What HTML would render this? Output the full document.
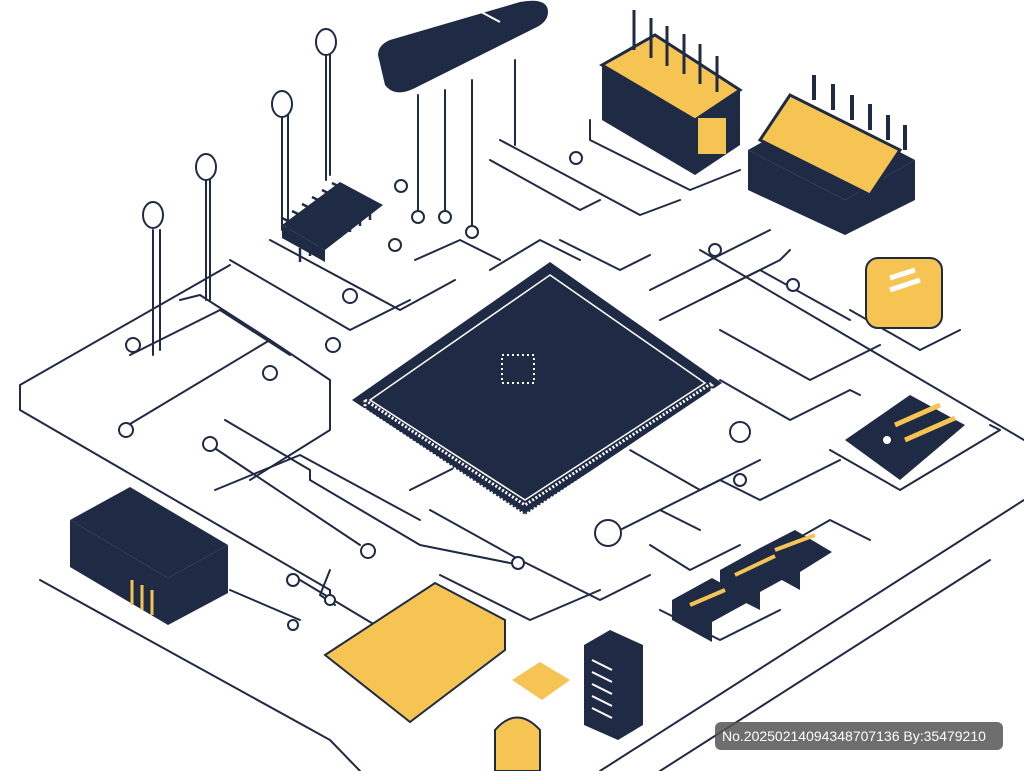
<!DOCTYPE html>
<html><head><meta charset="utf-8"><style>
html,body{margin:0;padding:0;background:#fff;}
svg{display:block;}
</style></head><body>
<svg width="1024" height="771" viewBox="0 0 1024 771" xmlns="http://www.w3.org/2000/svg">
<g fill="none" stroke="#1f2a44" stroke-width="2" stroke-linecap="round" stroke-linejoin="round">
<path d="M20 385 L230 265 M20 385 L20 410 L330 590 M330 590 L330 600 M40 580 L330 740 L360 771"/>
<path d="M1024 440 L700 250 M1024 500 L600 771 M990 560 L660 771"/>
<path d="M120 430 L270 340 L330 380 L330 430 L250 480"/>
<path d="M130 355 L220 310 L290 355"/>
<path d="M180 300 L200 295 L270 340"/>
<path d="M230 260 L350 330 L410 300"/>
<path d="M270 240 L400 310 L455 280"/>
<path d="M210 445 L360 545 M215 490 L300 455 L420 520"/>
<path d="M225 420 L310 470 L310 480 L420 545 L520 565"/>
<path d="M230 590 L300 620 M300 580 L400 640"/>
<path d="M335 605 L320 595 L330 570"/>
<path d="M410 490 L470 460 M430 510 L520 560 L600 600 L650 575"/>
<path d="M440 575 L530 620 L600 590"/>
<path d="M600 540 L660 510 L700 530"/>
<path d="M650 545 L690 570 L740 545"/>
<path d="M660 510 L720 480 L760 500 L840 460"/>
<path d="M630 450 L700 490 L760 460"/>
<path d="M720 380 L790 420 L850 390 L860 395"/>
<path d="M720 330 L810 380 L880 345"/>
<path d="M660 320 L760 270 L850 320"/>
<path d="M700 300 L780 260 L790 250"/>
<path d="M650 290 L730 250 L770 230"/>
<path d="M490 160 L580 210 L600 200 M500 140 L640 215 L680 200"/>
<path d="M590 120 L590 140 L690 190 L740 170"/>
<path d="M415 260 L460 240 L500 260 M490 270 L540 240 L580 260 M560 240 L620 270 L650 255"/>
<path d="M660 610 L720 640 L780 610 M760 560 L830 520 L870 540"/>
<path d="M830 450 L900 490 L1000 430 L990 425"/>
<path d="M850 310 L920 350 L960 330"/>
<path d="M153 230 L153 355 M160 230 L160 350 M206 180 L206 300 M210 180 L210 300 M282 115 L282 230 M288 115 L288 230 M326 55 L326 180 M330 55 L330 175"/>
<path d="M418 95 L418 215 M445 90 L445 215 M472 80 L472 230 M515 60 L515 145"/>
</g>
<g fill="#fff" stroke="#1f2a44" stroke-width="2">
<ellipse cx="153" cy="215" rx="10" ry="13"/><ellipse cx="206" cy="167" rx="10" ry="13"/>
<ellipse cx="282" cy="104" rx="10" ry="13"/><ellipse cx="326" cy="42" rx="10" ry="13"/>
<circle cx="133" cy="345" r="7"/><circle cx="126" cy="430" r="7"/><circle cx="210" cy="444" r="7"/>
<circle cx="270" cy="373" r="7"/><circle cx="333" cy="345" r="7"/><circle cx="350" cy="296" r="7"/>
<circle cx="395" cy="245" r="6"/><circle cx="401" cy="186" r="6"/><circle cx="418" cy="217" r="6"/>
<circle cx="445" cy="217" r="6"/><circle cx="472" cy="232" r="6"/><circle cx="576" cy="158" r="6"/>
<circle cx="715" cy="250" r="6"/><circle cx="793" cy="285" r="6"/><circle cx="740" cy="432" r="10"/>
<circle cx="740" cy="480" r="6"/><circle cx="608" cy="533" r="13"/><circle cx="518" cy="563" r="6"/>
<circle cx="368" cy="551" r="7"/><circle cx="293" cy="580" r="6"/><circle cx="330" cy="600" r="5"/>
<circle cx="293" cy="625" r="5"/>
</g>
<!-- top bar -->
<path d="M378 55 Q378 45 390 40 L520 2 Q548 -3 548 12 Q548 22 535 28 L415 88 Q395 98 385 85 Z" fill="#1f2a44"/>
<path d="M468 5 L500 22" stroke="#fff" stroke-width="2"/>
<!-- top-right yellow component -->
<polygon points="602,65 655,35 740,90 695,120" fill="#f5c453" stroke="#1f2a44" stroke-width="3"/>
<polygon points="602,65 695,120 695,175 602,120" fill="#1f2a44"/>
<polygon points="695,120 740,90 740,145 695,175" fill="#1f2a44"/>
<rect x="698" y="118" width="28" height="36" fill="#f5c453"/>
<g stroke="#1f2a44" stroke-width="3"><path d="M634 10V50M651 18V58M667 26V66M684 34V74M700 44V84M717 56V92"/></g>
<!-- right yellow component -->
<polygon points="748,150 820,110 915,160 845,200" fill="#1f2a44"/>
<polygon points="748,150 845,200 845,235 748,190" fill="#1f2a44"/>
<polygon points="845,200 915,160 915,200 845,235" fill="#1f2a44"/>
<path d="M760 140 L790 95 L900 150 L870 195 Z" fill="#f5c453" stroke="#1f2a44" stroke-width="3"/>
<g stroke="#1f2a44" stroke-width="4"><path d="M814 75V100M833 84V110M852 95V120M870 104V130M888 115V140M905 125V150"/></g>
<rect x="866" y="258" width="76" height="70" rx="12" fill="#f5c453" stroke="#1f2a44" stroke-width="2"/>
<path d="M890 278 L915 270 M890 290 L920 280" stroke="#fff" stroke-width="5"/>
<polygon points="845,440 910,395 965,425 900,480" fill="#1f2a44"/>
<path d="M895 425 L940 405 M905 440 L955 418" stroke="#f5c453" stroke-width="5"/>
<circle cx="887" cy="440" r="4" fill="#fff"/>
<!-- small chip with pins -->
<g stroke="#1f2a44" stroke-width="2.5">
<path d="M290 222 L282 218 M300 215 L292 211 M310 208 L302 204 M320 201 L312 197 M330 194 L322 190 M340 187 L332 183"/>
<path d="M300 248 L300 262 M310 242 L310 256 M320 236 L320 250 M330 230 L330 244 M340 224 L340 238 M350 218 L350 232 M360 212 L360 226 M370 206 L370 220"/>
</g>
<polygon points="282,225 340,182 383,205 325,250" fill="#1f2a44"/>
<polygon points="282,225 325,250 325,262 282,238" fill="#1f2a44"/>
<!-- central chip -->
<polygon points="550,262 722,383 525,515 352,400" fill="#1f2a44"/>
<polygon points="550,275 705,383 525,500 370,400" fill="none" stroke="#fff" stroke-width="1.5"/>
<polygon points="365,400 525,505 712,383 712,395 525,515 365,410" fill="none" stroke="#fff" stroke-width="3" stroke-dasharray="2 2"/>
<rect x="502" y="355" width="32" height="28" fill="none" stroke="#fff" stroke-width="2" stroke-dasharray="2 3"/>
<!-- left dark box -->
<polygon points="70,520 130,487 228,545 168,578" fill="#1f2a44"/>
<polygon points="70,520 168,578 168,625 70,567" fill="#1f2a44"/>
<polygon points="168,578 228,545 228,593 168,625" fill="#1f2a44"/>
<path d="M132 580V605M142 585V610M152 590V615" stroke="#f5c453" stroke-width="3"/>
<!-- bottom yellow chip -->
<polygon points="325,655 435,583 505,620 505,650 410,722" fill="#f5c453" stroke="#1f2a44" stroke-width="2"/>
<polygon points="512,680 540,662 570,680 542,700" fill="#f5c453"/>
<polygon points="584,645 610,630 643,645 643,725 618,740 584,725" fill="#1f2a44"/>
<path d="M592 660L612 670M592 672L612 682M592 684L612 694M592 696L612 706M592 708L612 718" stroke="#fff" stroke-width="2"/>
<path d="M495 771 L495 730 Q517 705 540 730 L540 771 Z" fill="#f5c453" stroke="#1f2a44" stroke-width="2"/>
<!-- connector: three blocks -->
<polygon points="672,600 712,578 752,600 712,622 712,642 672,620" fill="#1f2a44"/>
<polygon points="720,570 760,548 800,570 760,592 760,610 720,590" fill="#1f2a44"/>
<polygon points="760,548 795,530 832,552 800,572 800,590 760,568" fill="#1f2a44"/>
<path d="M690 605 L725 590 M735 575 L775 556 M775 550 L815 535" stroke="#f5c453" stroke-width="4"/>
<rect x="715" y="722" width="288" height="28" rx="6" fill="#555" fill-opacity="0.85"/>
<text x="722" y="741" font-family="Liberation Sans, sans-serif" font-size="14" fill="#fff">No.20250214094348707136 By:35479210</text>
</svg>
</body></html>
